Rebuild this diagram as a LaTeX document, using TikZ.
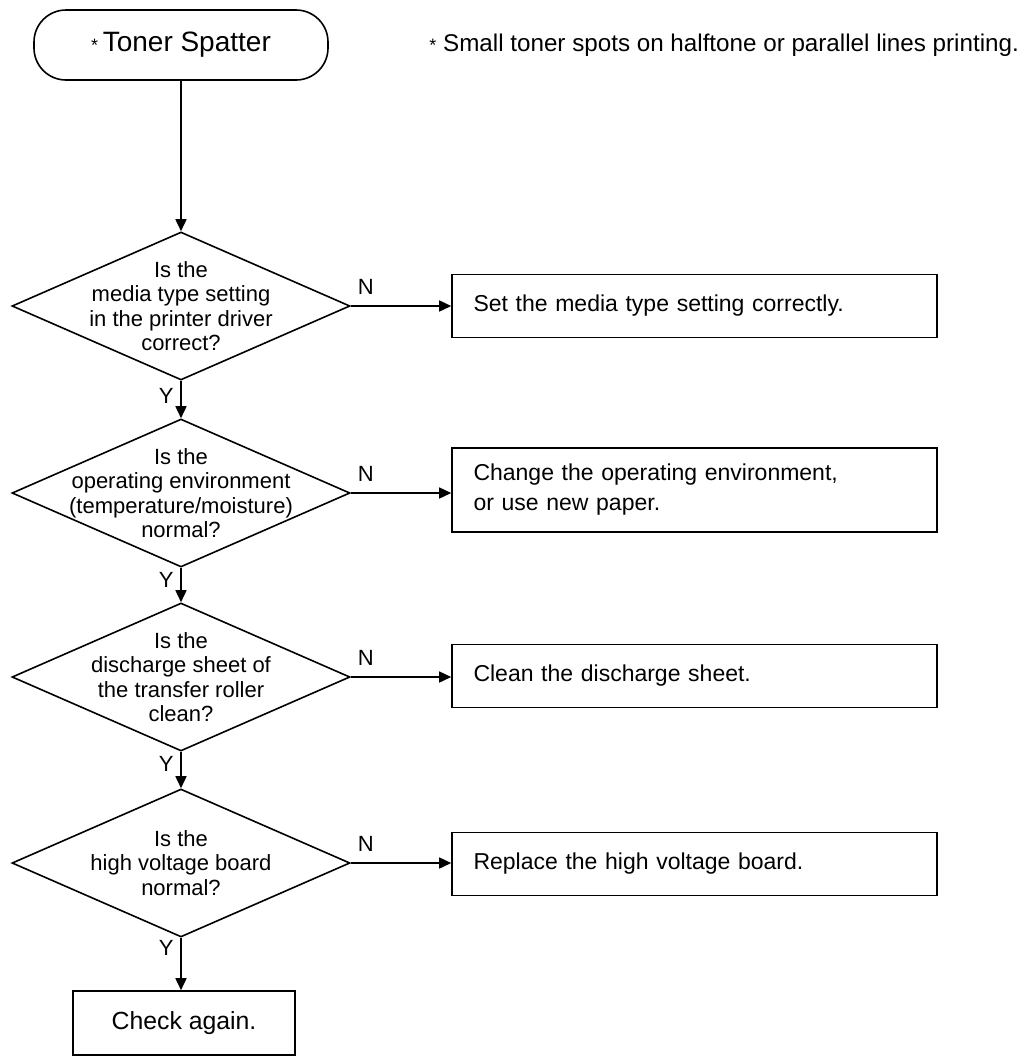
\documentclass[tikz,border=0pt]{standalone}
\usepackage{fontspec}
\setmainfont{Liberation Sans}
\usetikzlibrary{arrows.meta,shapes.geometric}
\newcommand{\smallstar}{{\small *}}

\begin{document}
\begin{tikzpicture}[x=0.5pt,y=-0.5pt,line width=0.8pt,
  >={Triangle[length=6pt,width=5.5pt]},
  startbox/.style={draw,rounded corners=16pt,minimum width=147pt,minimum height=35pt,font=\fontsize{14}{16}\selectfont},
  decision/.style={draw,diamond,minimum width=169pt,minimum height=74pt,inner xsep=-60pt,inner ysep=-30pt,align=center,font=\fontsize{11}{12.25}\selectfont},
  action/.style={draw,rectangle,minimum width=242.5pt,minimum height=31.5pt,text width=221pt,inner xsep=10.75pt,align=left,font=\fontsize{11.5}{15}\selectfont},
  yn/.style={font=\fontsize{11}{13}\selectfont}]
  \useasboundingbox (0,0) rectangle (1034,1057);

  \node[startbox] (start) at (181,45) {\smallstar\,Toner Spatter};
  \node[anchor=west,font=\fontsize{12.1}{14}\selectfont] (note) at (422,45) {\smallstar\ Small toner spots on halftone or parallel lines printing.};

  \node[decision] (d1) at (181,306) {Is the\\media type setting\\in the printer driver\\correct?};
  \node[action] (a1) at (694.5,306) {Set the media type setting correctly.};
  \node[decision] (d2) at (181,493) {Is the\\operating environment\\(temperature/moisture)\\normal?};
  \node[action,minimum height=42pt] (a2) at (694.5,490) {Change the operating environment,\\or use new paper.};
  \node[decision] (d3) at (181,677) {Is the\\discharge sheet of\\the transfer roller\\clean?};
  \node[action] (a3) at (694.5,676) {Clean the discharge sheet.};
  \node[decision] (d4) at (181,863) {Is the\\high voltage board\\normal?};
  \node[action] (a4) at (694.5,864) {Replace the high voltage board.};
  \node[draw,minimum width=111pt,minimum height=32pt,font=\fontsize{12.4}{14}\selectfont] (check) at (184,1023) {Check again.};

  \draw[->] (start) -- (d1);
  \draw[->] (d1.east) -- (d1.east -| a1.west) node[yn,pos=0.15,above=2pt] {N};
  \draw[->] (d1.south) -- (d2.north) node[yn,pos=0.4,left] {Y};
  \draw[->] (d2.east) -- (d2.east -| a2.west) node[yn,pos=0.15,above=2pt] {N};
  \draw[->] (d2.south) -- (d3.north) node[yn,pos=0.35,left] {Y};
  \draw[->] (d3.east) -- (d3.east -| a3.west) node[yn,pos=0.15,above=2pt] {N};
  \draw[->] (d3.south) -- (d4.north) node[yn,pos=0.32,left] {Y};
  \draw[->] (d4.east) -- (d4.east -| a4.west) node[yn,pos=0.15,above=2pt] {N};
  \draw[->] (d4.south) -- (d4.south |- check.north) node[yn,pos=0.2,left] {Y};
\end{tikzpicture}
\end{document}
